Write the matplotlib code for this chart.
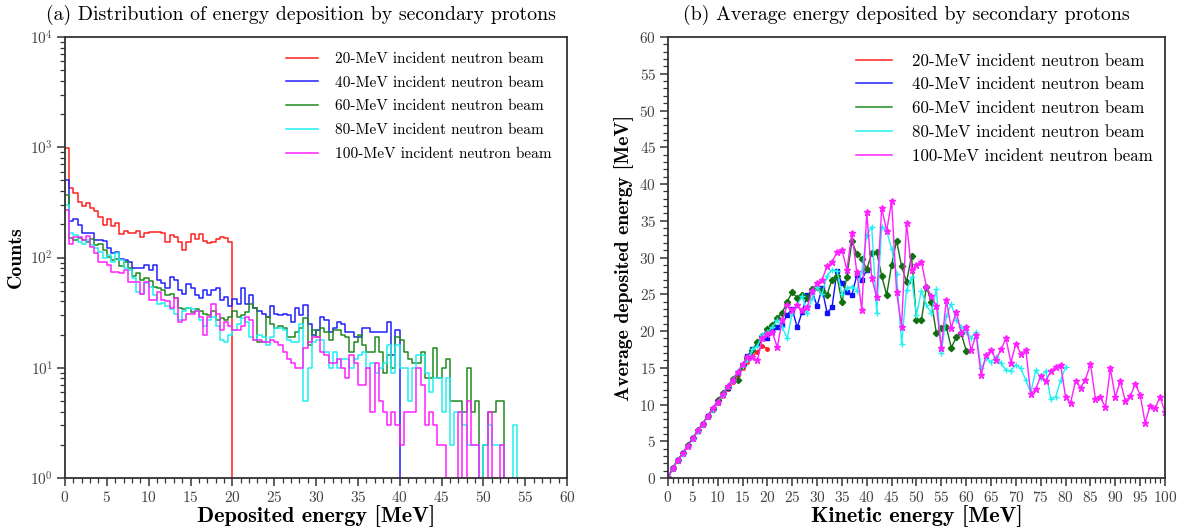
import numpy as np
import matplotlib
matplotlib.use("Agg")
import matplotlib.pyplot as plt
from matplotlib.lines import Line2D
from matplotlib.ticker import MultipleLocator, LogLocator

#########################################################################
#  Data
#########################################################################
beam_labels = ['20-MeV incident neutron beam', '40-MeV incident neutron beam',
               '60-MeV incident neutron beam', '80-MeV incident neutron beam',
               '100-MeV incident neutron beam']
bin_width = 0.5  # MeV

# (a) counts per 0.5 MeV bin of deposited energy
counts_20 = [980, 424, 387, 321, 293, 310, 279, 266, 234, 197, 222, 193, 207, 163, 175, 166, 166, 175, 155, 166,
             171, 170, 171, 166, 139, 160, 155, 139, 117, 139, 163, 146, 163, 142, 136, 139, 146, 152, 149, 139]
counts_40 = [510, 215, 222, 197, 166, 168, 168, 144, 144, 142, 121, 109, 112, 96, 95, 92, 81, 80, 81, 85,
             77, 85, 63, 59, 53, 66, 62, 51, 47, 58, 53, 46, 43, 51, 46, 51, 53, 41, 44, 36,
             42, 38, 53, 38, 46, 35, 33, 31, 29, 36, 31, 30, 31, 30, 26, 35, 30, 37, 25, 20,
             22, 29, 27, 21, 23, 26, 25, 21, 21, 19, 19, 23, 23, 21, 21, 21, 21, 26, 13, 22]
counts_60 = [370, 149, 144, 149, 144, 139, 146, 130, 134, 117, 102, 95, 96, 83, 92, 81, 68, 72, 62, 65,
             61, 54, 53, 51, 46, 47, 43, 35, 34, 35, 32, 34, 33, 31, 30, 33, 27, 28, 27, 29,
             33, 29, 30, 32, 38, 35, 17, 17, 29, 25, 23, 24, 23, 19, 19, 21, 23, 28, 16, 22,
             19, 23, 21, 18, 22, 22, 20, 19, 14, 17, 20, 16, 14, 14, 19, 14, 9, 13, 10, 19,
             18, 14, 12, 11, 11, 14, 8, 8, 15, 8, 10, 12, 5, 5, 5, 4, 10, 4, 5, 0,
             2, 4, 4, 5, 5]
counts_80 = [300, 166, 160, 139, 134, 144, 130, 121, 112, 99, 105, 92, 109, 95, 81, 77, 65, 49, 47, 59,
             54, 46, 38, 39, 36, 34, 31, 27, 33, 35, 34, 33, 27, 24, 27, 29, 24, 18, 17, 20,
             22, 25, 28, 26, 19, 18, 20, 19, 16, 19, 23, 23, 22, 18, 17, 17, 25, 5, 10, 17,
             18, 18, 14, 10, 14, 10, 12, 12, 10, 12, 13, 14, 10, 11, 9, 10, 11, 16, 9, 16,
             10, 10, 5, 10, 13, 13, 9, 6, 8, 8, 4, 8, 2, 4, 4, 3, 2, 2, 2, 1,
             2, 3, 2, 2, 2, 0, 0, 3]
counts_100 = [270, 133, 155, 155, 144, 157, 125, 110, 92, 92, 85, 74, 74, 73, 77, 60, 60, 60, 47, 60,
              41, 41, 49, 41, 40, 35, 43, 26, 27, 31, 31, 33, 29, 20, 29, 38, 31, 22, 26, 24,
              22, 22, 24, 29, 27, 18, 18, 17, 17, 18, 17, 16, 14, 12, 11, 10, 10, 15, 17, 19,
              19, 14, 13, 11, 11, 12, 10, 8, 13, 11, 7, 7, 10, 4, 11, 5, 4, 3, 4, 3,
              2, 4, 4, 4, 10, 7, 3, 4, 3, 2, 2, 1, 0, 0, 4, 1, 5, 2, 2, 1,
              0, 4, 1, 0, 2]

# (b) average deposited energy per 1 MeV kinetic energy step
avg_20 = [0, 1.4, 2.4, 3.4, 4.4, 5.4, 6.4, 7.4, 8.3, 9.3, 10.2, 11.2, 12.1, 13.1, 14.0, 15.0, 15.8, 16.6,
          17.2, 18.0, 17.6]
avg_40 = [0, 1.4, 2.4, 3.4, 4.4, 5.4, 6.4, 7.4, 8.4, 9.4, 10.4, 11.4, 12.3, 13.4, 14.3, 15.4, 16.6, 17.5,
          18.3, 19.1, 19.1, 20.0, 20.6, 21.0, 22.2, 23.0, 20.5, 22.6, 24.9, 25.4, 23.4, 25.8, 22.5, 23.2,
          28.1, 26.5, 25.3, 24.9, 27.6, 27.0, 28.3]
avg_60 = [0, 1.4, 2.5, 3.4, 4.5, 5.4, 6.5, 7.4, 8.5, 9.4, 10.6, 11.5, 12.4, 13.5, 13.4, 15.4, 16.3, 17.4,
          18.5, 19.3, 20.3, 20.8, 21.8, 22.5, 24.0, 25.3, 24.5, 24.9, 24.5, 25.7, 26.0, 25.5, 24.9, 27.0,
          27.5, 23.9, 27.4, 32.2, 30.5, 29.8, 28.4, 30.6, 30.7, 27.5, 24.9, 29.0, 32.3, 28.8, 26.7, 30.2,
          21.5, 21.5, 26.0, 24.0, 19.7, 20.4, 20.6, 17.7, 19.2, 19.7, 17.3]
avg_80 = [0, 1.3, 2.4, 3.3, 4.4, 5.3, 6.4, 7.3, 8.4, 9.3, 10.4, 11.3, 12.5, 13.3, 14.6, 15.2, 16.0, 17.5,
          18.0, 19.5, 19.8, 20.5, 21.5, 20.5, 19.0, 22.5, 23.5, 24.8, 22.4, 24.5, 26.0, 25.0, 27.5, 28.3,
          28.2, 25.1, 25.9, 26.0, 25.5, 28.1, 33.1, 34.2, 22.5, 34.2, 33.6, 31.2, 27.8, 18.2, 25.6, 27.3,
          22.2, 25.5, 23.5, 22.5, 25.7, 17.0, 22.0, 23.7, 21.5, 20.6, 19.9, 19.1, 19.9, 14.9, 16.3, 15.8,
          16.5, 15.6, 14.7, 14.6, 15.4, 14.9, 13.3, 11.6, 14.7, 13.6, 14.6, 10.8, 11.0, 13.3, 15.1]
avg_100 = [0, 1.4, 2.4, 3.4, 4.4, 5.4, 6.5, 7.4, 8.4, 9.5, 10.4, 11.4, 12.5, 13.4, 14.4, 15.5, 16.4, 16.4,
           16.0, 19.0, 19.6, 19.8, 17.8, 21.5, 23.5, 22.8, 23.5, 22.8, 23.2, 25.5, 26.5, 27.0, 28.8, 29.4,
           30.7, 31.0, 28.3, 33.3, 28.0, 22.9, 36.2, 27.2, 24.6, 36.8, 33.6, 37.7, 25.3, 20.6, 34.7, 28.3,
           29.0, 29.4, 26.0, 24.7, 23.4, 17.7, 24.2, 20.4, 22.6, 19.7, 20.6, 17.4, 19.5, 14.0, 16.7, 17.4,
           16.1, 17.5, 19.0, 15.7, 18.3, 16.9, 17.4, 11.4, 12.1, 13.9, 13.2, 14.5, 15.1, 15.4, 11.0, 10.2,
           13.2, 12.3, 13.4, 15.5, 10.8, 11.0, 9.6, 14.9, 11.0, 13.2, 10.5, 11.1, 12.8, 11.3, 7.5, 9.8,
           9.5, 11.0, 9.0]

colors_hist = ['#ff2020', '#2020ff', '#1f8a1f', '#20f0f0', '#ff20ff']
colors_avg = ['#ff2020', '#1010ff', '#107010', '#20f0f0', '#ff20ff']
markers = ['o', 's', 'D', '+', '*']
marker_sizes = [2.5, 3.5, 3.2, 4.5, 4.5]

#########################################################################
#  Style
#########################################################################
plt.rcParams['font.family'] = 'serif'
plt.rcParams['font.serif'] = ['cmr10', 'DejaVu Serif']
plt.rcParams['mathtext.fontset'] = 'cm'
plt.rcParams['axes.formatter.use_mathtext'] = True
plt.rcParams['axes.unicode_minus'] = False
bold_x = {'fontname': 'cmb10', 'fontsize': 16}
bold_y = {'fontname': 'cmb10', 'fontsize': 14.3}

fig = plt.figure(figsize=(11.86, 5.29), dpi=100)
ax1 = fig.add_axes([0.0548, 0.0964, 0.4233, 0.8336])
ax2 = fig.add_axes([0.5632, 0.0964, 0.4191, 0.8336])

for ax in (ax1, ax2):
    for s in ax.spines.values():
        s.set_linewidth(1.3)
        s.set_color('#333333')
    ax.tick_params(which='both', direction='out', top=False, right=False,
                   labelsize=11, labelcolor='#444444', color='#333333')
    ax.tick_params(which='major', length=6, width=1.1, pad=2.5)
    ax.tick_params(which='minor', length=3.5, width=0.9)

#########################################################################
#  (a) histogram
#########################################################################
all_counts = [counts_20, counts_40, counts_60, counts_80, counts_100]
for vals, c, lab in zip(all_counts, colors_hist, beam_labels):
    v = np.concatenate([np.array(vals, float), [0.0]])
    v = np.where(v > 0, v, 1e-2)
    edges = np.arange(len(vals) + 1) * bin_width
    ax1.step(edges, v, where='post', color=c, linewidth=1.1, label=lab)

ax1.set_yscale('log')
ax1.set_ylim(1, 1e4)
ax1.set_xlim(0, 60)
ax1.xaxis.set_major_locator(MultipleLocator(5))
ax1.xaxis.set_minor_locator(MultipleLocator(1))
ax1.yaxis.set_major_locator(LogLocator(base=10, numticks=10))
ax1.yaxis.set_minor_locator(LogLocator(base=10, subs=np.arange(2, 10), numticks=20))
ax1.set_xlabel('Deposited energy [MeV]', labelpad=0, **bold_x)
ax1.set_ylabel('Counts', labelpad=4, **bold_y)
ax1.set_title('(a) Distribution of energy deposition by secondary protons', fontsize=14.3, pad=12, x=0.47)
ax1.legend(loc='upper right', frameon=False, fontsize=11, handlelength=2.1, handletextpad=1.1,
           labelspacing=0.66, borderaxespad=0.3, bbox_to_anchor=(0.99, 0.99))

#########################################################################
#  (b) average deposited energy
#########################################################################
all_avg = [avg_20, avg_40, avg_60, avg_80, avg_100]
for vals, c, m, ms in zip(all_avg, colors_avg, markers, marker_sizes):
    k = np.arange(len(vals))
    ax2.plot(k, vals, color=c, marker=m, markersize=ms, linewidth=1.0, markeredgewidth=1.0)

ax2.set_xlim(0, 100)
ax2.set_ylim(0, 60)
ax2.xaxis.set_major_locator(MultipleLocator(5))
ax2.xaxis.set_minor_locator(MultipleLocator(1))
ax2.yaxis.set_major_locator(MultipleLocator(5))
ax2.yaxis.set_minor_locator(MultipleLocator(1))
ax2.set_xlabel('Kinetic energy [MeV]', labelpad=0, **bold_x)
ax2.set_ylabel('Average deposited energy [MeV]', labelpad=4, **bold_y)
ax2.set_title('(b) Average energy deposited by secondary protons', fontsize=14.3, pad=12, x=0.48)
handles = [Line2D([], [], color=c, linewidth=1.1) for c in colors_hist]
ax2.legend(handles, beam_labels, loc='upper right', frameon=False, fontsize=12.2, handlelength=2.1,
           handletextpad=1.2, labelspacing=0.5, borderaxespad=0.3, bbox_to_anchor=(1.0, 0.99))

plt.savefig('out.png', dpi=100)
